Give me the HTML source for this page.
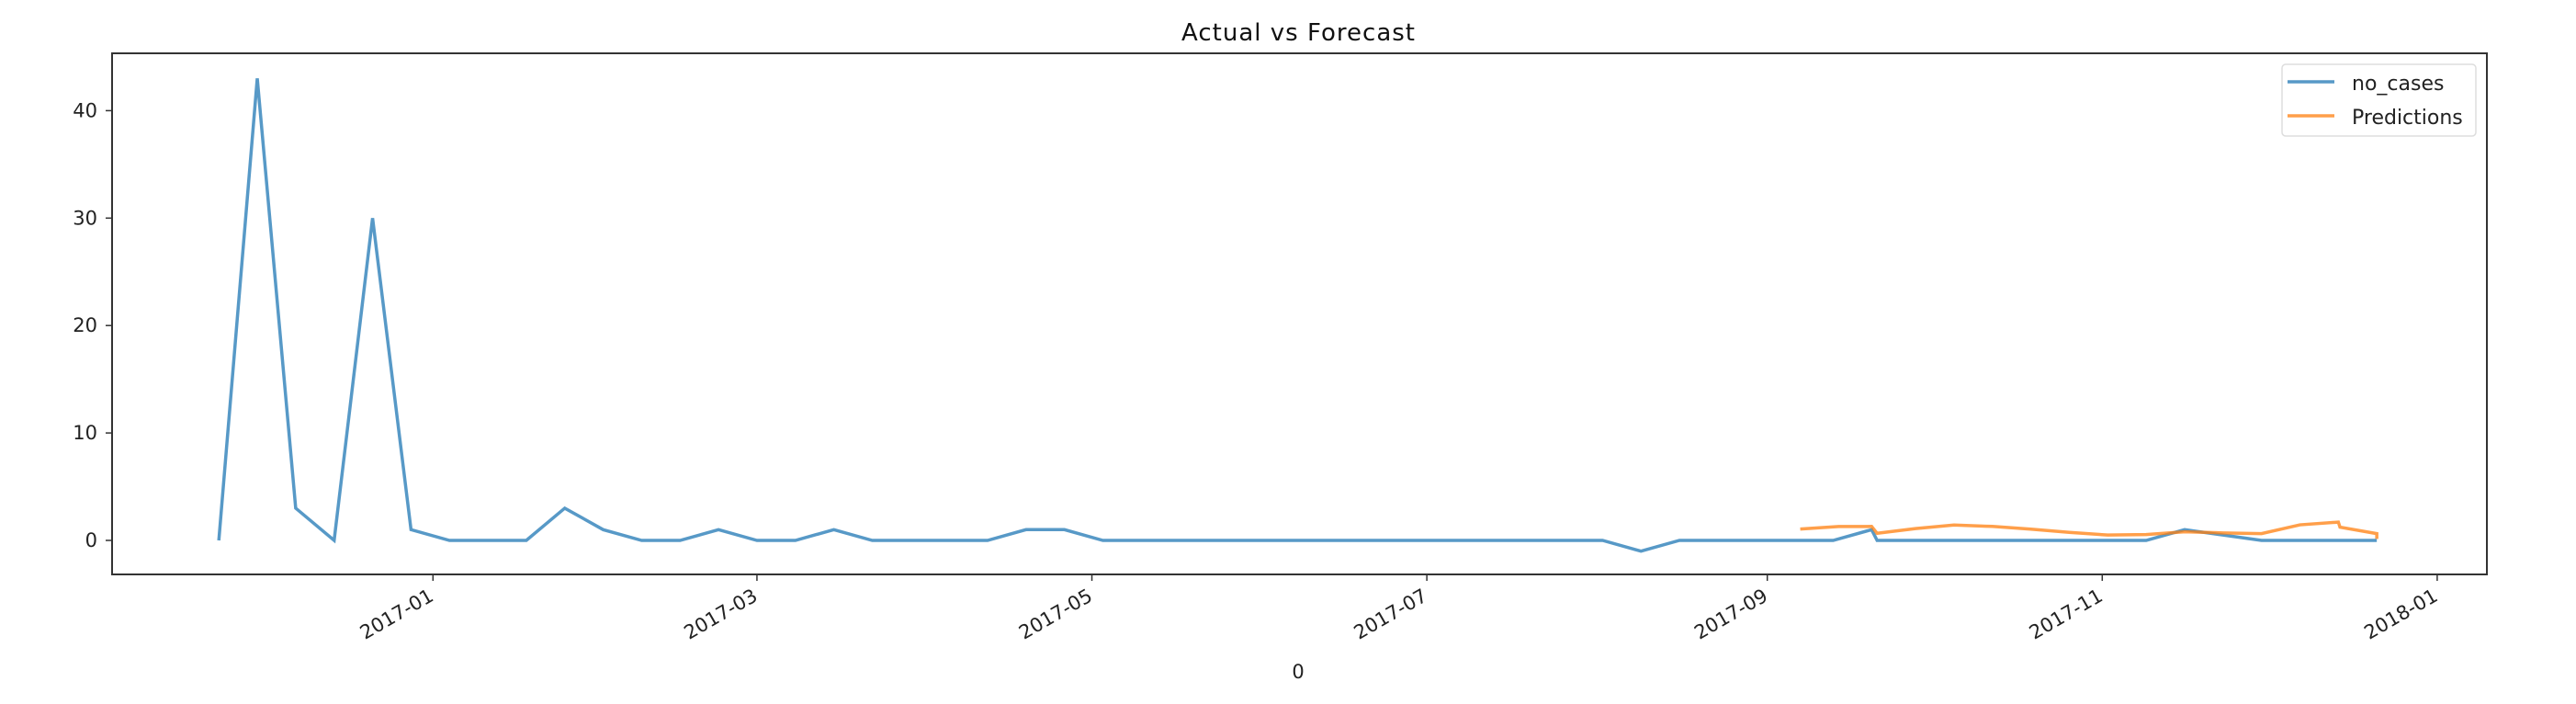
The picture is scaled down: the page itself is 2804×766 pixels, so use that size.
<!DOCTYPE html>
<html><head><meta charset="utf-8"><style>
html,body{margin:0;padding:0;background:#fff;}
svg{display:block;font-family:"DejaVu Sans","Liberation Sans",sans-serif;}
</style></head><body>
<svg id="chart" width="2804" height="766" viewBox="0 0 2804 766">
<rect x="0" y="0" width="2804" height="766" fill="#fff"/>
<text x="1413" y="44" font-size="26" text-anchor="middle" fill="#111" textLength="254">Actual vs Forecast</text>
<g id="plot"></g>
<rect x="122" y="58" width="2585" height="567" fill="none" stroke="#333" stroke-width="2"/>
<g id="xt"></g>
<g id="yt"></g>
<text x="1413" y="738" font-size="21" text-anchor="middle" fill="#222">0</text>
<g>
<rect x="2484" y="70" width="211" height="78" rx="4" fill="#fff" fill-opacity="0.8" stroke="#ddd" stroke-width="1.5"/>
<line x1="2490" y1="89" x2="2541" y2="89" stroke="#1f77b4" stroke-opacity="0.75" stroke-width="3.5"/>
<text x="2560" y="98" font-size="22" fill="#222">no_cases</text>
<line x1="2490" y1="126" x2="2541" y2="126" stroke="#ff7f0e" stroke-opacity="0.75" stroke-width="3.5"/>
<text x="2560" y="135" font-size="22" fill="#222">Predictions</text>
</g>
</svg>
<script>
// data: days offset from 2017-01-01
const actualDays = [];
const actualValues = [0,43,3,0,30,1,0,0,0,3,1,0,0,1,0,0,1,0,0,0,0,1,1,0,0,0,0,0,0,0,0,0,0,0,0,0,0,-1,0,0,0,0,0,1,
  0,0,0,0,0,0,0,0,1,0.5,0,0,0,0];
const trainStartDay = -39, testStartDay = 263, trainCount = 44;
for (let k = 0; k < trainCount; k++) actualDays.push(trainStartDay + 7*k);
for (let j = 0; j < actualValues.length - trainCount; j++) actualDays.push(testStartDay + 7*j);
const predDays = [249,256,262,263,270,277,284,291,298,305,312,319,326,333,340,347,347.3,354,354];
const predValues = [1.06,1.29,1.3,0.66,1.1,1.43,1.3,1.05,0.75,0.5,0.55,0.8,0.7,0.63,1.45,1.7,1.23,0.63,0.14];
const xTickDays = [0,59,120,181,243,304,365];
const xTickLabels = ["2017-01","2017-03","2017-05","2017-07","2017-09","2017-11","2018-01"];
const yTicks = [0,10,20,30,40];

const NS = "http://www.w3.org/2000/svg";
const X0 = 471.3, PXD = 5.977;
function xs(d){ return X0 + d*PXD; }
function ys(v){ return 588 - v*11.69; }
function mk(tag, attrs, parent){ const e=document.createElementNS(NS,tag); for(const k in attrs) e.setAttribute(k,attrs[k]); parent.appendChild(e); return e; }

const plot = document.getElementById('plot');
const p1 = mk('polyline',{points:actualDays.map((d,i)=>xs(d)+','+ys(actualValues[i])).join(' '),fill:'none',stroke:'#1f77b4','stroke-opacity':0.75,'stroke-width':3.5},plot);


const p2 = mk('polyline',{points:predDays.map((d,i)=>xs(d)+','+ys(predValues[i])).join(' '),fill:'none',stroke:'#ff7f0e','stroke-opacity':0.75,'stroke-width':3.5},plot);



const xt = document.getElementById('xt');
xTickDays.forEach((d,i)=>{
  const x = xs(d);
  const t = mk('line',{x1:x,y1:625,x2:x,y2:632,stroke:'#333','stroke-width':1.5},xt);
  
  
  const lb = mk('text',{x:x-4,y:654,'font-size':21,fill:'#222','text-anchor':'end',transform:`rotate(-30 ${x-4} 642)`},xt);
  lb.textContent = xTickLabels[i];
  
  
});
const yt = document.getElementById('yt');
yTicks.forEach(v=>{
  const y = ys(v);
  const t = mk('line',{x1:115,y1:y,x2:122,y2:y,stroke:'#333','stroke-width':1.5},yt);
  
  
  const lb = mk('text',{x:106,y:y+7,'font-size':21,fill:'#222','text-anchor':'end'},yt);
  lb.textContent = v;
  
  
});
</script>
</body></html>
